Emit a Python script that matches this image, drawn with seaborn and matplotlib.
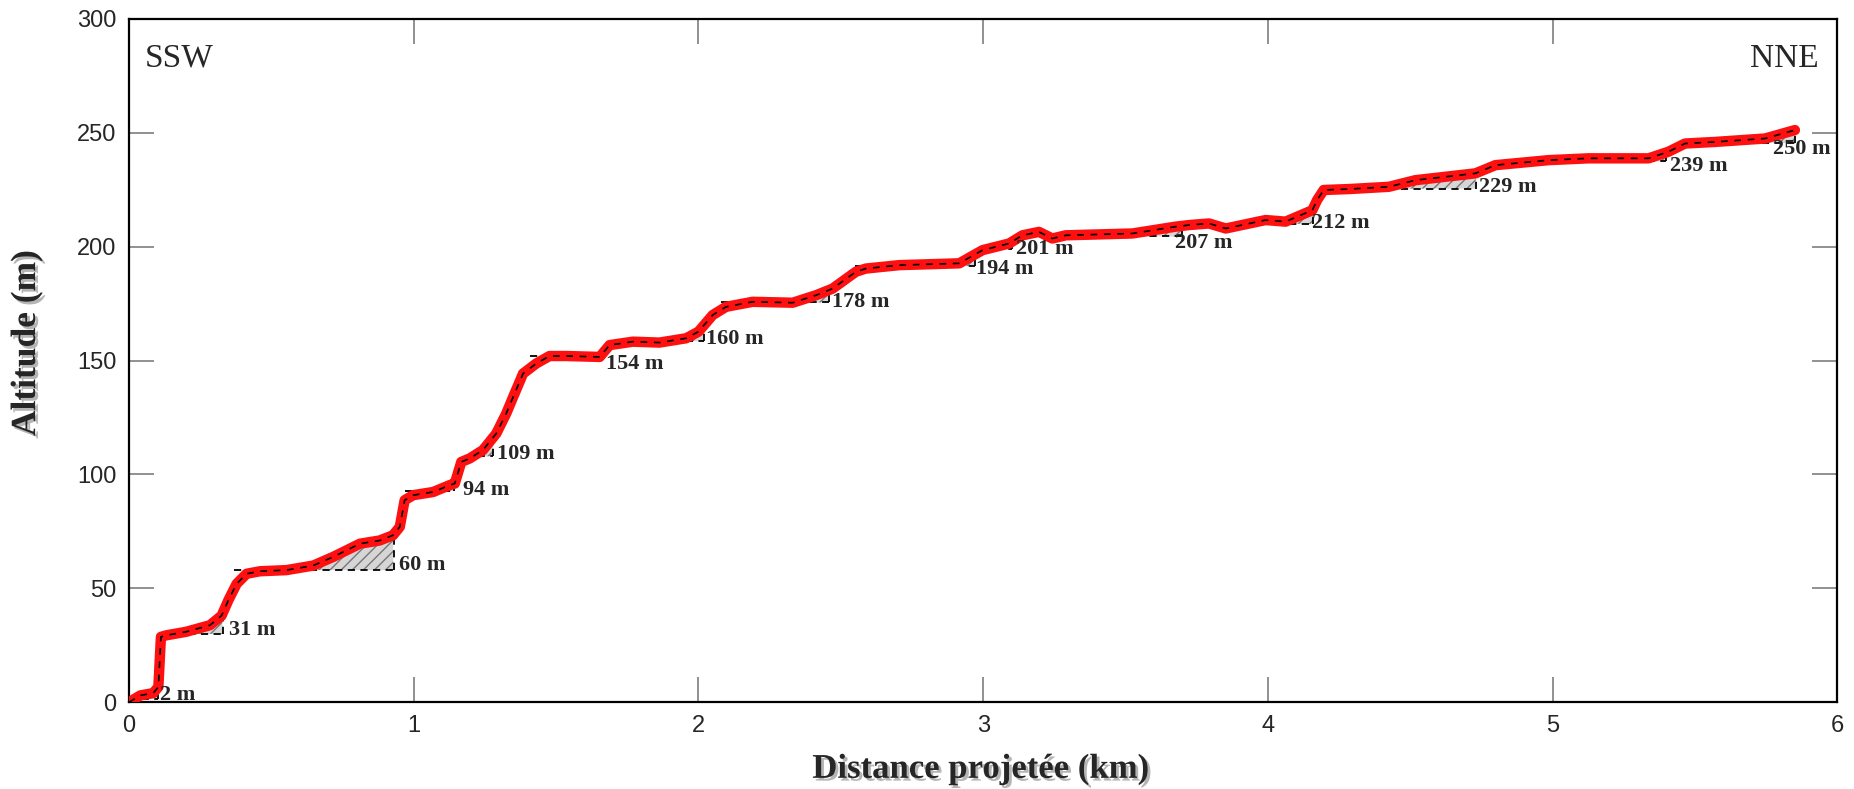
import numpy as np
import pandas as pd
import seaborn as sns
import matplotlib.pyplot as plt
import matplotlib.patheffects as pe

# profile (km, m)
dist_km = [0, 0.04, 0.085, 0.103, 0.112, 0.132, 0.20, 0.284, 0.325, 0.349, 0.378, 0.413, 0.46,
           0.553, 0.647, 0.717, 0.811, 0.88, 0.927, 0.951, 0.968, 0.998, 1.068, 1.126, 1.144,
           1.167, 1.196, 1.243, 1.29, 1.325, 1.349, 1.384, 1.43, 1.477, 1.536, 1.653, 1.688,
           1.77, 1.863, 1.957, 2.0, 2.05, 2.097, 2.19, 2.331, 2.413, 2.471, 2.553, 2.588, 2.705,
           2.916, 2.998, 3.091, 3.138, 3.196, 3.243, 3.29, 3.524, 3.676, 3.723, 3.793, 3.852,
           3.992, 4.062, 4.156, 4.173, 4.196, 4.284, 4.425, 4.518, 4.729, 4.799, 4.986, 5.126,
           5.337, 5.407, 5.465, 5.571, 5.746, 5.851]
alt_m = [0, 3, 4, 6.7, 28.7, 29.4, 30.9, 33.8, 38, 44.8, 52, 56.4, 57.5,
         58, 60, 63.8, 69.6, 71, 73.3, 77, 88.7, 90.9, 92.3, 95.3, 96,
         105.5, 107, 110.7, 118, 126.8, 134, 144.3, 148.7, 152, 152, 151.6, 156.8,
         158.3, 157.9, 159.8, 162.7, 170, 173.6, 175.8, 175.4, 178.7, 181.6, 189, 190.4, 191.9,
         192.7, 198.5, 201.4, 205, 206.5, 203.6, 205, 205.8, 208.8, 209.5, 210.2, 208,
         211.7, 211, 216, 220.5, 224.9, 225.3, 226.3, 229.2, 232.2, 235.8, 238, 238.8,
         238.8, 241.7, 245.3, 246, 247.5, 251.2]

# terrace levels (dashed lines) and their labels
terr_x0 = [0.0, 0.12, 0.37, 0.97, 1.18, 1.41, 1.69, 2.08, 2.55, 3.00, 3.14, 3.72, 4.20, 4.80, 5.47]
terr_x1 = [0.10, 0.33, 0.93, 1.14, 1.28, 1.66, 2.02, 2.46, 2.97, 3.10, 3.70, 4.16, 4.73, 5.40, 5.85]
terr_y = [1.5, 30.0, 58.0, 92.8, 108.0, 151.8, 158.5, 175.5, 191.5, 199.0, 204.5, 210.0, 225.5, 237.5, 245.5]

lab_text = ['2 m', '31 m', '60 m', '94 m', '109 m', '154 m', '160 m', '178 m', '194 m',
            '201 m', '207 m', '212 m', '229 m', '239 m', '250 m']
lab_x = [0.109, 0.351, 0.947, 1.172, 1.291, 1.674, 2.028, 2.47, 2.975,
         3.116, 3.674, 4.154, 4.74, 5.414, 5.775]
lab_y = [3.1, 31.6, 60.2, 93.1, 108.9, 148.4, 159.4, 175.7, 190.2,
         198.9, 201.6, 210.4, 226.2, 235.4, 242.9]

df = pd.DataFrame({'dist': dist_km, 'alt': alt_m})

sns.set_style('ticks')
plt.rcParams['font.family'] = ['Liberation Sans', 'DejaVu Sans']

fig = plt.figure(figsize=(18.54, 7.89), dpi=100)
ax = fig.add_axes([0.0696, 0.110, 0.9214, 0.866])

xs = np.linspace(0, max(dist_km), 2000)
ys = np.interp(xs, dist_km, alt_m)
for x0, x1, y in zip(terr_x0, terr_x1, terr_y):
    m = (xs >= x0) & (xs <= x1)
    ax.fill_between(xs[m], y, ys[m], where=ys[m] > y, color='#d6d6d6', edgecolor='#777777',
                    hatch='///', linewidth=0, zorder=1)
    ax.plot([x0, x1], [y, y], color='black', ls=(0, (4, 3)), lw=1.3, zorder=2)
    ytop = np.interp(x1, dist_km, alt_m)
    if ytop > y:
        ax.plot([x1, x1], [y, ytop], color='black', ls=(0, (4, 3)), lw=1.3, zorder=2)

sns.lineplot(data=df, x='dist', y='alt', ax=ax, color='#ff1010', lw=7.5, estimator=None,
             sort=False, zorder=3, solid_capstyle='round', solid_joinstyle='round')
ax.plot(dist_km, alt_m, color='black', ls=(0, (4, 4)), lw=1.2, zorder=4)

for t, x, y in zip(lab_text, lab_x, lab_y):
    ax.text(x, y, t, fontsize=16, fontweight='bold', family='Liberation Serif',
            ha='left', va='center', zorder=5)

ax.text(0.009, 0.942, 'SSW', transform=ax.transAxes, fontsize=24, family='Liberation Serif',
        ha='left', va='center')
ax.text(0.989, 0.942, 'NNE', transform=ax.transAxes, fontsize=24, family='Liberation Serif',
        ha='right', va='center')

ax.set_xlim(0, 6)
ax.set_ylim(0, 300)
ax.set_xticks(range(0, 7))
ax.set_yticks(range(0, 301, 50))
ax.tick_params(direction='in', length=18, width=1.3, color='#888888', labelsize=17,
               top=True, right=True, pad=9)

shadow = [pe.withSimplePatchShadow(offset=(2, -2), alpha=0.3)]
for s in ax.spines.values():
    s.set_linewidth(1.6)
    s.set_color('black')
    s.set_path_effects(shadow)

ax.set_xlabel('Distance projetée (km)', fontsize=25, fontweight='bold', family='Liberation Serif',
              path_effects=shadow)
ax.set_ylabel('Altitude (m)', fontsize=25.5, fontweight='bold', family='Liberation Serif',
              path_effects=shadow)
ax.xaxis.set_label_coords(0.4985, -0.074)
ax.yaxis.set_label_coords(-0.0503, 0.5256)

fig.savefig('out.png', dpi=100)
